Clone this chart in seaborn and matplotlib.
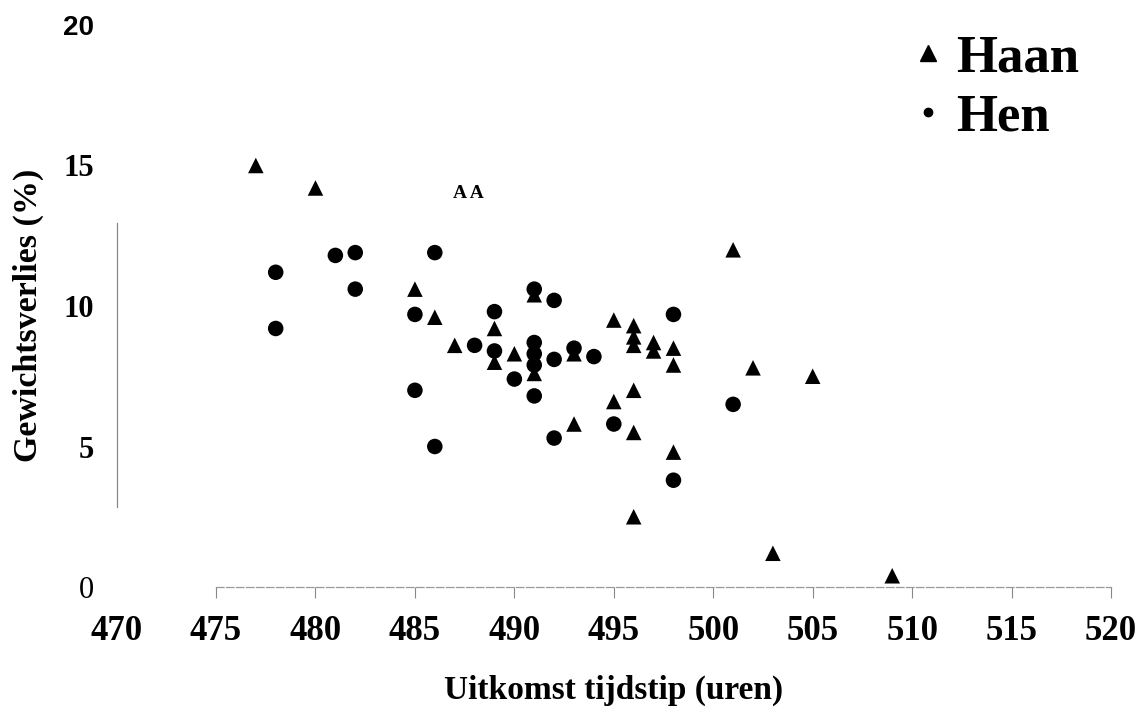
import matplotlib
matplotlib.use("Agg")
import matplotlib.pyplot as plt
from matplotlib.lines import Line2D
import seaborn as sns
import pandas as pd

# ---- data ----
haan_x = [477, 480, 485, 486, 487, 489, 489, 490, 491, 491, 493, 493, 495, 495,
          496, 496, 496, 496, 496, 496, 497, 497, 498, 498, 498, 501, 502, 503, 505, 509]
haan_y = [15.0, 14.2, 10.6, 9.6, 8.6, 9.2, 8.0, 8.3, 10.4, 7.6, 8.3, 5.8, 9.5, 6.6,
          9.3, 8.9, 8.6, 7.0, 5.5, 2.5, 8.7, 8.4, 8.5, 7.9, 4.8, 12.0, 7.8, 1.2, 7.5, 0.4]
hen_x = [478, 478, 481, 482, 482, 485, 485, 486, 486, 488, 489, 489, 490, 491, 491,
         491, 491, 491, 492, 492, 492, 493, 494, 495, 498, 498, 501]
hen_y = [11.2, 9.2, 11.8, 11.9, 10.6, 9.7, 7.0, 11.9, 5.0, 8.6, 9.8, 8.4, 7.4, 10.6, 8.7,
         8.3, 7.9, 6.8, 10.2, 8.1, 5.3, 8.5, 8.2, 5.8, 9.7, 3.8, 6.5]
groups = ["Haan", "Hen"]
x_ticks = [470, 475, 480, 485, 490, 495, 500, 505, 510, 515, 520]
y_ticks = [0, 5, 10, 15, 20]
x_title = "Uitkomst tijdstip (uren)"
y_title = "Gewichtsverlies (%)"
stray_text = "A A"

df = pd.DataFrame({
    "tijd": haan_x + hen_x,
    "verlies": haan_y + hen_y,
    "geslacht": [groups[0]] * len(haan_x) + [groups[1]] * len(hen_x),
})

sns.set_style("white")
plt.rcParams["font.family"] = ["Liberation Serif", "DejaVu Serif"]
plt.rcParams["text.color"] = "black"
plt.rcParams["axes.labelcolor"] = "black"
plt.rcParams["xtick.color"] = "black"
plt.rcParams["ytick.color"] = "black"

fig = plt.figure(figsize=(11.44, 7.13), dpi=100)
ax = fig.add_axes([116.6 / 1144, (713 - 587) / 713, (1111 - 116.6) / 1144, 562 / 713])

sns.scatterplot(data=df, x="tijd", y="verlies", hue="geslacht", style="geslacht",
                palette={"Haan": "black", "Hen": "black"},
                markers={"Haan": "^", "Hen": "o"}, s=125, linewidth=0,
                legend=False, ax=ax, clip_on=False, zorder=3)

ax.set_xlim(470, 520)
ax.set_ylim(0, 20)
ax.set_xticks(x_ticks)
ax.set_yticks(y_ticks)
ax.set_xticklabels([str(t) for t in x_ticks], fontsize=25, fontweight="bold")
ax.set_yticklabels([str(t) for t in y_ticks])
ax.set_xlabel("")
ax.set_ylabel("")

# y tick labels: mimic the mixed typefaces of the scanned original
ystyles = {
    "0": dict(family="Liberation Serif", weight="normal", size=22),
    "5": dict(family="Liberation Serif", weight="bold", size=22),
    "10": dict(family="Liberation Serif", weight="bold", size=22),
    "15": dict(family="Liberation Serif", weight="bold", size=22),
    "20": dict(family="Liberation Sans", weight="bold", size=20),
}
for lab in ax.get_yticklabels():
    st = ystyles[lab.get_text()]
    lab.set_fontfamily(st["family"])
    lab.set_fontweight(st["weight"])
    lab.set_fontsize(st["size"])

ax.tick_params(axis="y", left=False, length=0, pad=16)
ax.tick_params(axis="x", bottom=True, length=8, width=0.8, color="#888888",
               labelcolor="black", direction="out", pad=12)
# no tick mark at 470
ax.xaxis.get_major_ticks()[0].tick1line.set_visible(False)

for side in ["top", "right"]:
    ax.spines[side].set_visible(False)
ax.spines["left"].set_bounds(2.85, 12.95)
ax.spines["left"].set_color("#888888")
ax.spines["left"].set_linewidth(0.9)
ax.spines["bottom"].set_bounds(475, 520)
ax.spines["bottom"].set_color("#999999")
ax.spines["bottom"].set_linewidth(0.9)
ax.spines["bottom"].set_linestyle((0, (6, 2)))

fig.text(614 / 1144, 1 - 690 / 713, x_title, fontsize=24, fontweight="bold",
         ha="center", va="center")
fig.text(28 / 1144, 1 - 315 / 713, y_title, fontsize=24.5, fontweight="bold",
         ha="center", va="center", rotation=90)

ax.text(487.7, 14.0, stray_text, fontsize=14, fontweight="bold",
        ha="center", va="center")

handles = [
    Line2D([], [], marker="^", linestyle="", color="black", markersize=11),
    Line2D([], [], marker="o", linestyle="", color="black", markersize=6),
]
fig.legend(handles, groups, loc="upper left", bbox_to_anchor=(902 / 1144, 1 - 34 / 713),
           frameon=False, prop=dict(family="Liberation Serif", weight="bold", size=38),
           handletextpad=0.02, labelspacing=0.22, handlelength=1.0, borderaxespad=0,
           borderpad=0)

fig.savefig("out.png", dpi=100)
